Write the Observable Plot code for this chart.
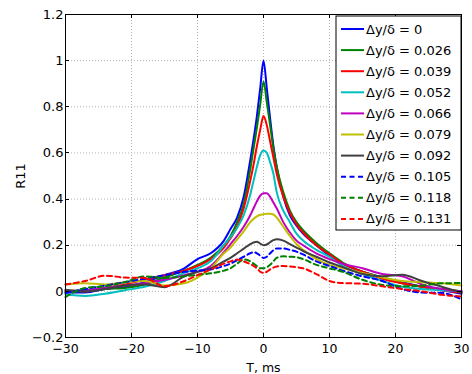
<!DOCTYPE html>
<html>
<head>
<meta charset="utf-8">
<script src="https://cdn.jsdelivr.net/npm/d3@7"></script>
<script src="https://cdn.jsdelivr.net/npm/@observablehq/plot@0.6"></script>
<style>
  html, body { margin: 0; padding: 0; background: #fff; }
  svg { display: block; }
</style>
</head>
<body>
<div id="chart"></div>
<script>
// Time lag T (ms)
const T = [-30,-27,-24,-21,-18,-15,-12,-10,-8,-6,-5,-4,-3,-2,-1.5,-1,-0.5,0,0.5,1,1.5,2,3,4,5,6,8,10,12,15,18,21,24,27,30];

// R11 for each Δy/δ
const dy000 = [-0.005,-0.005,0.01,0.02,0.04,0.07,0.10,0.14,0.165,0.22,0.27,0.32,0.41,0.57,0.66,0.76,0.88,1.0,0.88,0.75,0.63,0.54,0.41,0.33,0.285,0.25,0.20,0.155,0.12,0.085,0.06,0.04,0.02,0.005,-0.01];
const dy026 = [0.0,0.0,0.01,0.015,0.03,0.06,0.09,0.115,0.145,0.20,0.24,0.30,0.38,0.53,0.62,0.71,0.81,0.91,0.82,0.72,0.62,0.54,0.43,0.35,0.30,0.265,0.21,0.165,0.125,0.085,0.06,0.035,0.02,0.01,0.0];
const dy039 = [0.005,0.0,0.015,0.03,0.05,0.07,0.09,0.11,0.14,0.19,0.23,0.28,0.36,0.48,0.55,0.63,0.70,0.76,0.72,0.65,0.58,0.51,0.41,0.34,0.29,0.255,0.20,0.16,0.12,0.085,0.055,0.035,0.02,0.005,-0.005];
const dy052 = [-0.013,-0.02,-0.01,0.005,0.02,0.045,0.08,0.10,0.13,0.20,0.235,0.275,0.33,0.42,0.48,0.54,0.59,0.61,0.60,0.56,0.51,0.43,0.35,0.30,0.25,0.22,0.18,0.15,0.11,0.075,0.045,0.02,0.01,0.005,0.0];
const dy066 = [0.0,0.005,0.015,0.025,0.035,0.05,0.07,0.085,0.11,0.17,0.205,0.24,0.28,0.33,0.36,0.39,0.415,0.425,0.425,0.41,0.385,0.36,0.30,0.255,0.22,0.20,0.165,0.14,0.12,0.10,0.075,0.065,0.03,0.01,0.0];
const dy079 = [0.03,0.035,0.03,0.04,0.045,0.025,0.035,0.06,0.10,0.165,0.19,0.225,0.26,0.30,0.315,0.325,0.332,0.334,0.336,0.336,0.333,0.32,0.28,0.24,0.205,0.18,0.14,0.115,0.10,0.08,0.06,0.045,0.04,0.035,0.025];
const dy092 = [0.007,0.0,0.01,0.025,0.03,0.018,0.065,0.085,0.10,0.13,0.145,0.165,0.185,0.205,0.212,0.215,0.207,0.20,0.203,0.213,0.222,0.226,0.22,0.205,0.19,0.175,0.15,0.125,0.105,0.075,0.065,0.072,0.045,0.02,-0.005];
const dy105 = [-0.007,0.01,0.025,0.04,0.055,0.07,0.085,0.09,0.095,0.11,0.12,0.135,0.15,0.165,0.17,0.165,0.155,0.145,0.15,0.165,0.178,0.186,0.186,0.18,0.172,0.16,0.13,0.11,0.09,0.065,0.045,0.01,-0.005,-0.007,-0.035];
const dy118 = [-0.025,0.015,0.022,0.04,0.065,0.058,0.065,0.072,0.078,0.09,0.10,0.12,0.138,0.13,0.12,0.11,0.10,0.10,0.105,0.115,0.13,0.145,0.152,0.15,0.148,0.14,0.115,0.10,0.085,0.05,0.028,0.022,0.025,0.035,0.036];
const dy131 = [0.03,0.045,0.068,0.06,0.058,0.022,0.045,0.07,0.095,0.12,0.13,0.138,0.13,0.118,0.11,0.10,0.085,0.08,0.085,0.095,0.103,0.108,0.11,0.108,0.105,0.10,0.075,0.045,0.036,0.033,0.022,0.01,0.0,-0.015,-0.022];

const seriesLabels = ["Δy/δ = 0","Δy/δ = 0.026","Δy/δ = 0.039","Δy/δ = 0.052","Δy/δ = 0.066","Δy/δ = 0.079","Δy/δ = 0.092","Δy/δ = 0.105","Δy/δ = 0.118","Δy/δ = 0.131"];
const seriesValues = [dy000,dy026,dy039,dy052,dy066,dy079,dy092,dy105,dy118,dy131];

const xTicks = [-30,-20,-10,0,10,20,30];
const yTicks = [-0.2,0,0.2,0.4,0.6,0.8,1,1.2];

// styles
const colors = ["#0000ff","#008000","#ff0000","#00bfbf","#bf00bf","#bfbf00","#404040","#0000ff","#008000","#ff0000"];
const dashes = [null,null,null,null,null,null,null,"5,3.5","5,3.5","5,3.5"];

(function () {
const fmt = d => (d < 0 ? "\u2212" : "") + String(Math.abs(d));

const lineMarks = seriesValues.map((vals, i) =>
  Plot.line(T.map((t, j) => ({T: t, R: vals[j]})), {
    x: "T", y: "R", stroke: colors[i], strokeWidth: 2,
    strokeDasharray: dashes[i], curve: "monotone-x"
  })
);

const plot = Plot.plot({
  width: 472, height: 374,
  marginLeft: 65, marginRight: 11, marginTop: 14, marginBottom: 37,
  style: {fontFamily: "DejaVu Sans", fontSize: "13px", background: "#fff", color: "#000"},
  x: {domain: [-30, 30]},
  y: {domain: [-0.2, 1.2]},
  marks: [
    Plot.gridX(xTicks, {stroke: "#b4b4b4", strokeOpacity: 1, strokeDasharray: "1,2"}),
    Plot.gridY(yTicks, {stroke: "#b4b4b4", strokeOpacity: 1, strokeDasharray: "1,2"}),
    ...lineMarks,
    Plot.frame({stroke: "#000", strokeWidth: 1}),
    Plot.axisX({ticks: xTicks, tickSize: 0, tickPadding: 7, tickFormat: fmt, fontSize: 12.5,
      label: "T, ms", labelAnchor: "center", labelArrow: "none", labelOffset: 34}),
    Plot.axisY({ticks: yTicks, tickSize: 0, tickPadding: 2, tickFormat: fmt,
      label: "R11", labelAnchor: "center", labelArrow: "none", labelOffset: 50})
  ]
});

document.getElementById("chart").appendChild(plot);

// inward ticks on all four sides and the legend, placed with the plot's own scales
const xs = plot.scale("x"), ys = plot.scale("y");
const svg = d3.select(plot);
const fLeft = xs.apply(-30), fRight = xs.apply(30), fTop = ys.apply(1.2), fBottom = ys.apply(-0.2);
const tl = 4;
const g = svg.append("g").attr("stroke", "#000").attr("stroke-width", 1);
xTicks.forEach(v => {
  const x = Math.round(xs.apply(v)) + 0.5;
  g.append("line").attr("x1", x).attr("x2", x).attr("y1", fBottom).attr("y2", fBottom - tl);
  g.append("line").attr("x1", x).attr("x2", x).attr("y1", fTop).attr("y2", fTop + tl);
});
yTicks.forEach(v => {
  const y = Math.round(ys.apply(v)) + 0.5;
  g.append("line").attr("y1", y).attr("y2", y).attr("x1", fLeft).attr("x2", fLeft + tl);
  g.append("line").attr("y1", y).attr("y2", y).attr("x1", fRight).attr("x2", fRight - tl);
});

// legend
const lgW = 125, lgH = 214, rowH = 21.1;
const lx = fRight - lgW, ly = fTop + 2;
const lg = svg.append("g").attr("font-family", "DejaVu Sans").attr("font-size", 13)
  .attr("text-anchor", "start").attr("fill", "#000");
lg.append("rect").attr("x", lx).attr("y", ly).attr("width", lgW).attr("height", lgH)
  .attr("fill", "#fff").attr("stroke", "#000").attr("stroke-width", 1);
seriesLabels.forEach((lab, i) => {
  const y = ly + 13 + i * rowH;
  lg.append("line").attr("x1", lx + 5).attr("x2", lx + 28).attr("y1", y).attr("y2", y)
    .attr("stroke", colors[i]).attr("stroke-width", 2)
    .attr("stroke-dasharray", dashes[i]);
  lg.append("text").attr("x", lx + 30).attr("y", y).attr("dy", "0.35em")
    .attr("text-anchor", "start").text(lab);
});
})();
</script>
</body>
</html>
